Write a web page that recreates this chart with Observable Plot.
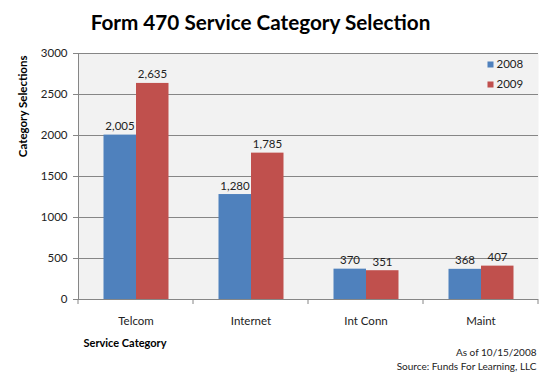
<!DOCTYPE html>
<html><head><meta charset="utf-8">
<script src="https://cdn.jsdelivr.net/npm/d3@7"></script>
<script src="https://cdn.jsdelivr.net/npm/@observablehq/plot@0.6"></script>
<style>
body{margin:0;background:#fff;font-family:Lato,sans-serif;}
#wrap{position:relative;width:552px;height:372px;overflow:hidden;}
#title{height:40px;line-height:44px;text-align:center;font-weight:bold;font-size:20.7px;color:#000;padding-right:31px;}
</style></head><body><div id="wrap"><div id="title">Form 470 Service Category Selection</div></div>
<script>
const categories = ["Telcom", "Internet", "Int Conn", "Maint"];
const years = ["2008", "2009"];
const values2008 = [2005, 1280, 370, 368];
const values2009 = [2635, 1785, 351, 407];
const yTicks = [0, 500, 1000, 1500, 2000, 2500, 3000];
const colors = ["#4f81bd", "#c0504d"];
const yLabel = "Category Selections";
const xLabel = "Service Category";
const captionLines = ["As of 10/15/2008", "Source: Funds For Learning, LLC"];

const rows2008 = categories.map((c, i) => ({category: c, year: years[0], value: values2008[i]}));
const rows2009 = categories.map((c, i) => ({category: c, year: years[1], value: values2009[i]}));
const fmt = d3.format(",");
const grid = "#868686";

const plot = Plot.plot({
  width: 552, height: 332,
  marginTop: 13, marginBottom: 73, marginLeft: 78, marginRight: 14,
  style: {fontFamily: "Lato, sans-serif", fontSize: "11px", color: "#222", background: "transparent"},
  x: {domain: categories, padding: 0, label: null},
  y: {domain: [0, 3000], label: null},
  marks: [
    Plot.frame({fill: "#f2f2f2", stroke: null}),
    Plot.gridY(yTicks, {stroke: grid, strokeOpacity: 1}),
    Plot.frame({anchor: "left", stroke: grid}),
    Plot.axisY(yTicks, {tickSize: 5, tickPadding: 6, stroke: grid, fontSize: 11.5, fill: "#222", label: null, tickFormat: d => String(d)}),
    Plot.axisX({tickSize: 0, tickPadding: 17, fontSize: 11.5, fill: "#222", label: null}),
    Plot.barY(rows2008, {x: "category", y: "value", fill: colors[0], insetLeft: 25.5, insetRight: 57}),
    Plot.barY(rows2009, {x: "category", y: "value", fill: colors[1], insetLeft: 58, insetRight: 24.5}),
    Plot.text(rows2008, {x: "category", y: "value", text: d => fmt(d.value), dx: -16, dy: -5, lineAnchor: "bottom", fontSize: 11.5, fill: "#222"}),
    Plot.text(rows2009, {x: "category", y: "value", text: d => fmt(d.value), dx: 16.5, dy: -5, lineAnchor: "bottom", fontSize: 11.5, fill: "#222"}),
    Plot.ruleY([0], {stroke: grid}),
    ...years.map((yr, i) => Plot.dot([yr], {frameAnchor: "top-right", dx: -48, dy: 11 + 20 * i, symbol: "square", r: 3.4, fill: colors[i], stroke: null})),
    ...years.map((yr, i) => Plot.text([yr], {frameAnchor: "top-right", text: d => d, dx: -42, dy: 11 + 20 * i, textAnchor: "start", lineAnchor: "middle", fontSize: 11.5, fill: "#222"})),
    Plot.text([yLabel], {frameAnchor: "top-left", text: d => d, rotate: -90, textAnchor: "end", lineAnchor: "middle", dx: -55, dy: 2, fontWeight: "bold", fontSize: 11.5, fill: "#000"}),
    Plot.text([xLabel], {frameAnchor: "bottom-left", text: d => d, textAnchor: "start", lineAnchor: "middle", dx: 5, dy: 44, fontWeight: "bold", fontSize: 11, fill: "#000"}),
    ...captionLines.map((t, i) => Plot.text([t], {frameAnchor: "bottom-right", text: d => d, textAnchor: "end", lineAnchor: "middle", dx: -2, dy: 53 + 14 * i, fontSize: 10, fill: "#222"}))
  ]
});

// category boundary tick marks on the x axis, from the band scale
const xs = plot.scale("x"), ys = plot.scale("y");
const y0 = ys.apply(0);
const edges = categories.map(c => xs.apply(c)).concat([xs.apply(categories[categories.length - 1]) + xs.bandwidth]);
d3.select(plot).append("g").selectAll("line").data(edges).join("line")
  .attr("x1", d => d).attr("x2", d => d).attr("y1", y0).attr("y2", y0 + 5)
  .attr("stroke", grid);

document.getElementById("wrap").appendChild(plot);
</script>
</body></html>
